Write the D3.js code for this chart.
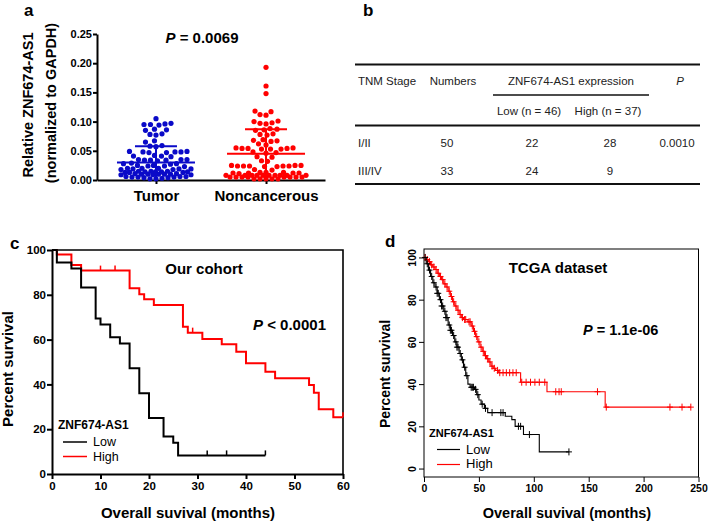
<!DOCTYPE html>
<html><head><meta charset="utf-8">
<script src="https://cdn.jsdelivr.net/npm/d3@7"></script>
<style>body{margin:0;background:#fff}svg{display:block;font-family:"Liberation Sans",Arial,sans-serif}</style>
</head><body><svg id="fig" width="708" height="527"></svg>
<script>
// ---------- Panel a data ----------
const groups = ["Tumor", "Noncancerous"];
const tumorValues = [0.105,
 0.097,0.096,0.095,0.094,0.095,
 0.087,0.085,0.086,
 0.079,0.078,0.077,
 0.067,0.065,
 0.058,0.057,0.059,
 0.049,0.048,0.048,0.047,0.049,0.047,0.048,
 0.041,0.042,0.040,0.041,
 0.035,0.034,0.034,0.035,0.033,0.034,0.035,
 0.028,0.027,0.029,0.028,
 0.024,0.025,0.023,0.024,0.025,
 0.019,0.020,0.018,0.019,0.020,0.019,0.018,0.020,
 0.014,0.013,0.015,0.014,0.013,0.014,0.015,0.013,0.014,0.015,
 0.010,0.009,0.010,0.011,0.009,0.010,0.011,0.010,0.009,0.010,
 0.006,0.005,0.006,0.004,0.005,0.006,0.004,0.005,
 0.002,0.002,0.003];
const noncancerousValues = [0.193,0.161,0.148,
 0.118,0.117,0.112,0.111,
 0.101,0.100,0.098,0.097,0.096,
 0.088,0.087,0.086,0.085,
 0.079,0.078,0.077,
 0.069,0.068,0.067,0.066,
 0.062,0.060,
 0.055,0.054,0.053,0.054,0.055,0.053,0.054,0.053,
 0.048,0.047,0.046,
 0.040,0.039,
 0.033,0.032,
 0.025,0.024,0.024,0.025,0.023,0.024,0.025,0.024,0.023,0.024,
 0.018,0.017,
 0.013,0.012,0.013,0.012,0.011,0.012,0.013,0.012,
 0.008,0.008,0.008,0.008,0.008,0.008,0.008,0.008,0.008,0.008,
 0.005,0.005,0.005,0.005,0.005,0.005,0.005,0.005,
 0.002,0.002,0.002,0.002,0.002];
const groupMean = [0.030, 0.045];
const groupSD = [0.028, 0.042];
const aTicks = [0, 0.05, 0.10, 0.15, 0.20, 0.25];

// ---------- Panel b data ----------
const tableHeader = ["TNM Stage", "Numbers", "ZNF674-AS1 expression", "P"];
const subHeader = ["Low (n = 46)", "High (n = 37)"];
const stages = ["I/II", "III/IV"];
const numbers = [50, 33];
const lowCounts = [22, 24];
const highCounts = [28, 9];
const pValues = ["0.0010", ""];

// ---------- Panel c data ----------
const cLowTimes = [0,1,4,6,9,10,12,14,16,18,20,23,25,26];
const cLowSurv = [100,94.4,91.7,83.3,69.4,66.7,61.1,58.3,47.2,36.1,25,16.7,13.9,8.3];
const cLowEnd = 44;
const cLowCensor = [32,36,44];
const cHighTimes = [0,1,4,6,16,18,19,21,27,28,31,35,38,40,44,46,53,54,55,58];
const cHighSurv = [100,98,93.3,90.8,82.9,80.3,78,75.4,65.7,63.1,60.3,57.9,54.6,49.4,45.7,42.7,39.7,36.3,28.9,25.3];
const cHighEnd = 60;
const cHighCensor = [10,13,29,60];
const cXTicks = [0,10,20,30,40,50,60];
const cYTicks = [0,20,40,60,80,100];

// ---------- Panel d data ----------
const dLowTimes = [0,2,4,6,8,10,12,14,16,18,20,22,24,26,28,30,32,34,36,38,40,42,46,48,50,52,55,58,74,80,83,90.6,105];
const dLowSurv = [100,97,94,91,88,86,83,80,77,74.5,71.5,68,65.5,63,60,57.5,54.5,51.5,48,44,40,38.5,37.5,35,32.5,30.5,28.5,26.5,24.8,23.2,20,16.1,7.9];
const dLowEnd = 132;
const dLowCensor = [1,3,5,7,9,11,12,13,15,16,17,19,20,21,23,24,25,27,29,30,31,33,35,37,39,43,44,45,47,49,53,56,62,70,72,86,88,96,132];
const dHighTimes = [0,2,4,6,8,10,12,14,16,18,20,22,24,26,28,30,32,34,36,40,43,45,47,49,51,53,55,57,59,61,63,65,68,88,112,165];
const dHighSurv = [100,99,98,96.5,95.5,94.3,92.5,91,89.5,87.5,86,84,81.5,79,77,75,73,71.5,70.6,69.5,67.5,65,62.5,60,57.5,55.5,53.5,52,50.5,48.5,47.5,46.5,45.4,40.9,36.4,29.1];
const dHighEnd = 243;
const dHighCensor = [1,3,5,7,9,11,13,15,17,19,21,23,25,27,29,31,33,35,37,38,41,42,44,46,48,50,52,54,56,58,60,62,64,67,69,72,75,78,81,84,89,93,97,101,105,110,120,123,125,158,166,224,235,243];
const dXTicks = [0,50,100,150,200,250];
const dYTicks = [0,20,40,60,80,100];

const svg = d3.select("#fig");
const RED = "#ff0000", BLUE = "#0a0ac8";

function label(x, y, t, size, opts = {}) {
  return svg.append("text").attr("x", x).attr("y", y).text(t)
    .attr("font-size", size).attr("font-weight", opts.weight || "bold")
    .attr("text-anchor", opts.anchor || "start").attr("fill", opts.fill || "#000");
}
function rlabel(x, y, t, size, weight) {
  return svg.append("text").attr("transform", `translate(${x},${y}) rotate(-90)`)
    .attr("text-anchor", "middle").attr("font-size", size).attr("font-weight", weight || "bold").text(t);
}

// ================= Panel a =================
label(24, 16, "a", 17);
const yA = d3.scaleLinear().domain([0, 0.25]).range([180, 34]);
const xA = d3.scalePoint().domain(groups).range([97, 325]).padding(0.536);
const gyA = svg.append("g").attr("transform", "translate(97,0)")
  .call(d3.axisLeft(yA).tickValues(aTicks).tickFormat(d3.format(".2f")).tickSize(4).tickSizeOuter(0));
gyA.select(".domain").attr("stroke-width", 2);
gyA.selectAll(".tick line").attr("stroke-width", 2);
gyA.selectAll(".tick text").attr("font-size", 11).attr("font-weight", "bold").attr("font-family", "Liberation Sans, Arial").attr("x", -5);
const gxA = svg.append("g").attr("transform", "translate(0,180)")
  .call(d3.axisBottom(xA).tickSize(4).tickSizeOuter(0));
gxA.select(".domain").attr("stroke-width", 2);
gxA.selectAll(".tick line").attr("stroke-width", 2);
gxA.selectAll(".tick text").attr("font-size", 15).attr("font-weight", "bold").attr("font-family", "Liberation Sans, Arial").attr("y", 10).attr("dy", "0.71em");

function swarm(values, cx, r, maxOff) {
  const pts = values.map(v => ({ v, y: yA(v) })).sort((a, b) => b.y - a.y);
  const placed = [], d = 2 * r + 0.8;
  for (const p of pts) {
    let best = 0, bestScore = -1;
    for (let k = 0; k <= maxOff * 4; k++) {
      const o = (k % 2 === 0 ? 1 : -1) * Math.ceil(k / 2) * 0.5;
      let minD = Infinity;
      for (const q of placed) {
        const dd = Math.hypot(q.x - (cx + o), q.y - p.y);
        if (dd < minD) minD = dd;
      }
      if (minD >= d) { best = o; bestScore = Infinity; break; }
      if (minD > bestScore) { bestScore = minD; best = o; }
    }
    p.x = cx + best; placed.push(p);
  }
  return placed;
}
const rDot = 2.6;
[[tumorValues, BLUE, 35], [noncancerousValues, RED, 40]].forEach(([vals, col, mo], i) => {
  const cx = xA(groups[i]);
  const pts = swarm(vals, cx, rDot, mo);
  svg.append("g").selectAll("circle").data(pts).join("circle")
    .attr("cx", d => d.x).attr("cy", d => d.y).attr("r", rDot).attr("fill", col);
  const m = groupMean[i], s = groupSD[i];
  const g = svg.append("g").attr("stroke", col).attr("stroke-width", 2);
  g.append("line").attr("x1", cx - 39).attr("x2", cx + 39).attr("y1", yA(m)).attr("y2", yA(m));
  g.append("line").attr("x1", cx).attr("x2", cx).attr("y1", yA(Math.max(0, m - s))).attr("y2", yA(m + s));
  g.append("line").attr("x1", cx - 21).attr("x2", cx + 21).attr("y1", yA(m + s)).attr("y2", yA(m + s));
});
const pA = label(202, 43, "", 15, { anchor: "middle" });
pA.append("tspan").attr("font-style", "italic").text("P");
pA.append("tspan").text(" = 0.0069");
rlabel(33, 105, "Relative ZNF674-AS1", 14.5);
rlabel(56, 103, "(normalized to GAPDH)", 14.5);

// ================= Panel b =================
label(363, 16, "b", 17);
const tcol = "#222";
const tline = (x1, x2, y, w) => svg.append("line").attr("x1", x1).attr("x2", x2).attr("y1", y).attr("y2", y).attr("stroke", "#111").attr("stroke-width", w);
tline(355, 700, 64.5, 2);
tline(493, 649, 95, 1.5);
tline(355, 700, 125.5, 2);
tline(355, 700, 184, 2);
const tf = 11.5;
label(358, 85, tableHeader[0], tf, { weight: "normal", fill: tcol });
label(453, 85, tableHeader[1], tf, { weight: "normal", fill: tcol, anchor: "middle" });
label(571, 85, tableHeader[2], tf, { weight: "normal", fill: tcol, anchor: "middle" });
label(680, 85, tableHeader[3], tf, { weight: "normal", fill: tcol, anchor: "middle" }).attr("font-style", "italic");
label(529, 115, subHeader[0], tf, { weight: "normal", fill: tcol, anchor: "middle" });
label(608, 115, subHeader[1], tf, { weight: "normal", fill: tcol, anchor: "middle" });
stages.forEach((s, i) => {
  const y = 147 + i * 28;
  label(358, y, s, tf, { weight: "normal", fill: tcol });
  label(447, y, numbers[i], tf, { weight: "normal", fill: tcol, anchor: "middle" });
  label(532, y, lowCounts[i], tf, { weight: "normal", fill: tcol, anchor: "middle" });
  label(610, y, highCounts[i], tf, { weight: "normal", fill: tcol, anchor: "middle" });
  label(677, y, pValues[i], tf, { weight: "normal", fill: tcol, anchor: "middle" });
});

// ================= helpers for KM =================
function kmPoints(times, surv, end) {
  const pts = times.map((t, i) => [t, surv[i]]);
  pts.push([end, surv[surv.length - 1]]);
  return pts;
}
function survAt(times, surv, t) {
  const i = d3.bisectRight(times, t) - 1;
  return surv[Math.max(0, i)];
}

// ================= Panel c =================
label(10, 249, "c", 17);
const xC = d3.scaleLinear().domain([0, 60]).range([52, 343]);
const yC = d3.scaleLinear().domain([0, 100]).range([474, 250]);
const gxC = svg.append("g").attr("transform", "translate(0,474)")
  .call(d3.axisBottom(xC).tickValues(cXTicks).tickSize(5).tickSizeOuter(0));
const gyC = svg.append("g").attr("transform", "translate(52,0)")
  .call(d3.axisLeft(yC).tickValues(cYTicks).tickSize(5).tickSizeOuter(0));
[gxC, gyC].forEach(g => {
  g.select(".domain").attr("stroke-width", 2);
  g.selectAll(".tick line").attr("stroke-width", 2);
  g.selectAll(".tick text").attr("font-size", 11.5).attr("font-weight", "bold").attr("font-family", "Liberation Sans, Arial");
});
gyC.selectAll(".tick text").attr("x", -6);
gxC.selectAll(".tick text").attr("y", 8);
svg.append("path").attr("d", `M${xC(0)},${yC(100)}H${xC(60)}V${yC(0)}`).attr("fill", "none").attr("stroke", "#000").attr("stroke-width", 1.6);
const lineC = d3.line().x(d => xC(d[0])).y(d => yC(d[1])).curve(d3.curveStepAfter);
[[cHighTimes, cHighSurv, cHighEnd, cHighCensor, RED], [cLowTimes, cLowSurv, cLowEnd, cLowCensor, "#000"]].forEach(([t, s, e, c, col]) => {
  svg.append("path").attr("d", lineC(kmPoints(t, s, e))).attr("fill", "none").attr("stroke", col).attr("stroke-width", 2);
  svg.append("g").selectAll("line").data(c).join("line")
    .attr("x1", d => xC(d)).attr("x2", d => xC(d))
    .attr("y1", d => yC(survAt(t, s, d))).attr("y2", d => yC(survAt(t, s, d)) - 5)
    .attr("stroke", col).attr("stroke-width", 1.5);
});
label(204, 273.5, "Our cohort", 15, { anchor: "middle" });
const pC = label(253, 330, "", 15);
pC.append("tspan").attr("font-style", "italic").text("P");
pC.append("tspan").text(" < 0.0001");
label(58, 429, "ZNF674-AS1", 12);
svg.append("line").attr("x1", 63).attr("x2", 87).attr("y1", 442).attr("y2", 442).attr("stroke", "#000").attr("stroke-width", 1.5);
svg.append("line").attr("x1", 63).attr("x2", 87).attr("y1", 456.5).attr("y2", 456.5).attr("stroke", RED).attr("stroke-width", 1.5);
label(93, 446, "Low", 12.5, { weight: "normal" });
label(93, 461, "High", 12.5, { weight: "normal" });
rlabel(13, 369, "Percent survival", 15);
label(188, 518, "Overall suvival (months)", 15, { anchor: "middle" });

// ================= Panel d =================
label(385, 247, "d", 17);
const xD = d3.scaleLinear().domain([0, 250]).range([424, 698.5]);
const yD = d3.scaleLinear().domain([-4, 104]).range([477, 249]);
svg.append("rect").attr("x", 424).attr("y", 249).attr("width", 274.5).attr("height", 228).attr("fill", "none").attr("stroke", "#000").attr("stroke-width", 1);
const gxD = svg.append("g").attr("transform", "translate(0,477)")
  .call(d3.axisBottom(xD).tickValues(dXTicks).tickSize(5).tickSizeOuter(0));
const gyD = svg.append("g").attr("transform", "translate(424,0)")
  .call(d3.axisLeft(yD).tickValues(dYTicks).tickSize(5).tickSizeOuter(0));
[gxD, gyD].forEach(g => {
  g.select(".domain").remove();
  g.selectAll(".tick text").attr("font-size", 10.5).attr("font-weight", "bold").attr("font-family", "Liberation Sans, Arial");
});
gxD.selectAll(".tick text").attr("y", 8);
gyD.selectAll(".tick text").attr("text-anchor", "middle").attr("x", 0).attr("dy", 0)
  .attr("transform", "translate(-8,0) rotate(-90)").attr("y", 0);
const lineD = d3.line().x(d => xD(d[0])).y(d => yD(d[1])).curve(d3.curveStepAfter);
[[dHighTimes, dHighSurv, dHighEnd, dHighCensor, RED], [dLowTimes, dLowSurv, dLowEnd, dLowCensor, "#000"]].forEach(([t, s, e, c, col]) => {
  svg.append("path").attr("d", lineD(kmPoints(t, s, e))).attr("fill", "none").attr("stroke", col).attr("stroke-width", 1.1);
  const g = svg.append("g").attr("stroke", col).attr("stroke-width", 1);
  c.forEach(d => {
    const x = xD(d), y = yD(survAt(t, s, d));
    g.append("path").attr("d", `M${x - 3},${y}H${x + 3}M${x},${y - 3.5}V${y + 3.5}`);
  });
});
label(558, 273, "TCGA dataset", 15, { anchor: "middle" });
const pD = label(583, 335, "", 14.5);
pD.append("tspan").attr("font-style", "italic").text("P");
pD.append("tspan").text(" = 1.1e-06");
label(429, 436.5, "ZNF674-AS1", 11);
svg.append("line").attr("x1", 437).attr("x2", 460).attr("y1", 449.5).attr("y2", 449.5).attr("stroke", "#000").attr("stroke-width", 1.2);
svg.append("line").attr("x1", 437).attr("x2", 460).attr("y1", 464.5).attr("y2", 464.5).attr("stroke", RED).attr("stroke-width", 1.2);
label(466, 453.5, "Low", 13, { weight: "normal" });
label(466, 468, "High", 13, { weight: "normal" });
rlabel(390, 374, "Percent survival", 14);
label(567, 518, "Overall suvival (months)", 14.5, { anchor: "middle" });
</script></body></html>
